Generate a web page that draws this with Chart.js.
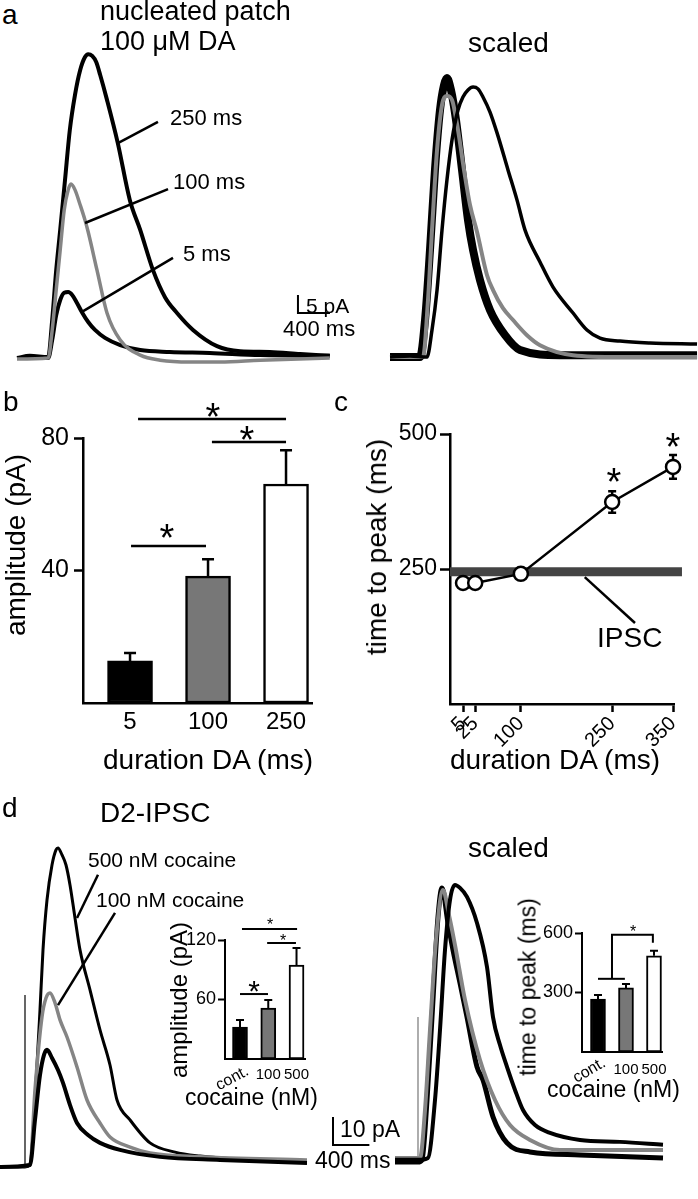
<!DOCTYPE html>
<html><head><meta charset="utf-8">
<script src="https://cdn.jsdelivr.net/npm/chart.js@4/dist/chart.umd.min.js"></script>
<style>
html,body{margin:0;padding:0;background:#fff;}
#fig{position:relative;width:698px;height:1199px;overflow:hidden;background:#fff;font-family:"Liberation Sans",Arial,sans-serif;color:#000;}
#fig canvas{position:absolute;}
.t{position:absolute;white-space:nowrap;z-index:5;line-height:1;}
</style></head>
<body><div id="fig"></div>
<script>
// ---------- DATA ----------
// Panel a, left: nucleated patch, 100 uM DA (time ms, current pA)
const a250_t = [0,160,390,440,490,540,600,660,725,790,850,890,940,990,1040,1125,1260,1410,1540,1700,1850,2000,2200,2500,2790,3160,3540,3910];
const a250_i = [0,0.6,0.3,10.6,24.4,35.6,49.4,63.3,73.1,80,83.6,84.4,83.9,82.2,78.6,71.7,59.7,43.9,35.6,24.4,16.9,12.5,7.8,3.3,1.9,1.7,1.1,0.6];
const a100_t = [0,390,440,490,540,590,640,675,725,790,850,890,1000,1125,1290,1540,1790,2160,2540,3040,3910];
const a100_i = [-0.3,0,7.8,18.9,30,41.1,46.7,48.3,46.7,42.5,38.3,35,24.4,12.5,5,0.8,-0.6,-1.1,-1.1,-0.6,0];
const a5_t = [0,390,440,490,540,590,640,690,750,810,890,975,1100,1290,1540,1910,2410,3040,3910];
const a5_i = [0,0,5,11.9,16.1,18.1,18.3,17.5,15.3,12.8,10,7.8,5.6,3.6,2.2,1.7,1.4,0.8,0.6];
// Panel a, right: scaled (normalised)
const s250_t = [0,250,462,525,588,650,712,775,850,912,975,1038,1100,1162,1250,1338,1475,1588,1688,1875,2038,2288,2462,2625,2875,3250,3838];
const s250_n = [0,0.004,0,0.1,0.248,0.47,0.656,0.804,0.915,0.963,0.989,1,0.993,0.963,0.907,0.83,0.693,0.581,0.47,0.352,0.259,0.163,0.1,0.07,0.059,0.052,0.048];
const s100_t = [0,412,475,525,588,650,712,775,850,925,1000,1088,1212,1288,1412,1538,1712,1875,2288,2875,3838];
const s100_n = [0,0,0.211,0.47,0.767,0.933,0.967,0.952,0.841,0.693,0.563,0.463,0.304,0.248,0.181,0.137,0.081,0.044,0.007,0,0];
const s5_t = [0,375,438,500,562,625,675,712,762,825,900,975,1038,1125,1250,1438,1625,2125,3838];
const s5_n = [0,0,0.137,0.396,0.693,0.915,1.007,1.033,0.989,0.878,0.693,0.507,0.396,0.285,0.174,0.081,0.026,0.007,0.007];
// Panel b: amplitude vs duration
const bLabels = ['5','100','250'];
const bAmp = [12.7,38.3,66.1];
const bErr = [2.4,5.1,10.2];
const bTicks = [40,80];
// Panel c: time to peak vs duration
const cDur = [5,25,100,250,350];
const cTtp = [224,224,241,374,439];
const cErr = [4,4,5,20,22];
const cTicks = [250,500];
const ipscTtp = 245;
// Panel d, left: D2-IPSC (time ms, current pA)
const d500_t = [-275,0,55,110,165,198,242,297,341,363,407,451,495,550,605,715,825,935,1012,1155,1375,1650,1925,2475,3102];
const d500_i = [-0.7,-0.7,0,23.2,55.4,76.8,94.6,107.1,112.5,113.2,110.7,107.1,100,88.2,76.8,62.5,48.2,35.7,23.2,16.1,7.9,4.6,3.2,1.8,1.1];
const d100_t = [-275,55,110,187,231,275,330,385,462,572,682,825,935,1155,1375,1925,3102];
const d100_i = [-0.7,0,26.8,52.9,59.6,61.4,57.9,51.8,45.7,35,23.2,15,10,6.4,4.3,2.9,1.8];
const dC_t = [-275,55,110,165,209,242,297,363,418,495,572,693,825,1045,1485,2145,3102];
const dC_i = [-0.7,0,16.1,32.1,39.3,41.1,38.2,33.9,29.3,21.4,15,10.7,7.9,5.4,2.9,1.8,0.7];
const dStim_t = [0,0];
const dStim_i = [-0.7,60.7];
// Panel d, right: scaled
const e500_t = [-253,0,110,187,242,297,352,407,462,539,649,759,825,902,979,1067,1155,1287,1452,1782,2222,2695];
const e500_n = [-0.007,-0.007,0,0.213,0.471,0.765,0.949,1.004,0.993,0.96,0.864,0.702,0.518,0.415,0.335,0.25,0.176,0.121,0.092,0.066,0.059,0.048];
const eC_t = [-253,0,44,99,154,220,264,330,385,462,539,649,715,825,979,1232,1782,2695];
const eC_n = [-0.015,-0.015,-0.007,0.213,0.518,0.886,0.993,0.864,0.765,0.643,0.518,0.335,0.287,0.151,0.055,0.022,0.011,0];
const e100_t = [-253,22,77,132,198,275,341,407,517,682,847,1012,1232,1562,2695];
const e100_n = [0,0,0.176,0.471,0.801,0.985,0.893,0.783,0.581,0.36,0.213,0.121,0.066,0.029,0.029];
const eStim_t = [0,0];
const eStim_n = [-0.007,0.518];
// Insets: cocaine
const cocLabels = ['cont.','100','500'];
const cocAmp = [32.3,51.4,94.8];
const cocAmpErr = [7,8.1,17.1];
const cocAmpTicks = [60,120];
const cocTtp = [267,323,485];
const cocTtpErr = [21,20,25];
const cocTtpTicks = [300,600];

// ---------- helpers ----------
Chart.defaults.font.family = '"Liberation Sans", Arial, sans-serif';
Chart.defaults.color = '#000';
const fig = document.getElementById('fig');
function makeCanvas(l,t,w,h){const c=document.createElement('canvas');c.width=w;c.height=h;c.style.left=l+'px';c.style.top=t+'px';c.style.width=w+'px';c.style.height=h+'px';fig.appendChild(c);return c;}
function drawPaths(chart,paths){const ctx=chart.ctx,xs=chart.scales.x,ys=chart.scales.y;ctx.save();paths.forEach(p=>{ctx.beginPath();p.pts.forEach((q,i)=>{const X=xs.getPixelForValue(q[0]),Y=ys.getPixelForValue(q[1]);if(i)ctx.lineTo(X,Y);else ctx.moveTo(X,Y);});ctx.lineWidth=p.w||2.5;ctx.strokeStyle=p.c||'#000';ctx.lineCap='butt';ctx.lineJoin='miter';ctx.stroke();});ctx.restore();}
function drawErr(chart,e){const ctx=chart.ctx,xs=chart.scales.x,ys=chart.scales.y;ctx.save();ctx.strokeStyle='#000';ctx.lineWidth=e.w;e.x.forEach((xv,i)=>{const X=xs.getPixelForValue(xv);const v=e.v[i],d=e.d[i];const Y1=ys.getPixelForValue(e.both?v-d:v),Y2=ys.getPixelForValue(v+d);ctx.beginPath();ctx.moveTo(X,Y1);ctx.lineTo(X,Y2);ctx.moveTo(X-e.cap/2,Y2);ctx.lineTo(X+e.cap/2,Y2);if(e.both){ctx.moveTo(X-e.cap/2,Y1);ctx.lineTo(X+e.cap/2,Y1);}ctx.stroke();});ctx.restore();}
let pid=0;
function anno(cfg){return {id:'anno'+(pid++),beforeDatasetsDraw(chart){if(cfg.err)drawErr(chart,cfg.err);},afterDatasetsDraw(chart){if(cfg.paths)drawPaths(chart,cfg.paths);}};}
const baseOpts = {responsive:false,animation:false,devicePixelRatio:1,events:[],plugins:{legend:{display:false},tooltip:{enabled:false}}};
function pts(t,v){return t.map((x,i)=>({x:x,y:v[i]}));}
function traceChart(l,t,w,h,xr,yr,sets,cfg){
  return new Chart(makeCanvas(l,t,w,h),{type:'scatter',
    data:{datasets:sets.map(s=>({data:pts(s.t,s.v),showLine:true,borderColor:s.c,borderWidth:s.w,pointRadius:0,cubicInterpolationMode:s.lin?'default':'monotone',tension:s.lin?0:0.4,fill:false}))},
    options:Object.assign({},baseOpts,{layout:{padding:0},scales:{x:{type:'linear',display:false,min:xr[0],max:xr[1]},y:{type:'linear',display:false,min:yr[0],max:yr[1]}}}),
    plugins:[anno(cfg)]});
}
function barChart(o){
  return new Chart(makeCanvas(o.l,o.t,o.w,o.h),{type:'bar',
    data:{datasets:[{data:o.vals.map((v,i)=>({x:i+1,y:v})),backgroundColor:o.colors,borderColor:'#000',borderWidth:o.bw,borderSkipped:false,barThickness:o.bt}]},
    options:Object.assign({},baseOpts,{layout:{padding:{top:o.pt,right:o.pr,left:0,bottom:0}},
      scales:{
        x:{type:'linear',offset:false,min:o.xr[0],max:o.xr[1],afterBuildTicks:s=>{s.ticks=o.vals.map((v,i)=>({value:i+1}));},afterFit:s=>{s.height=o.xh;},
           ticks:{callback:(v,i)=>o.xl(i),font:{size:o.xf},padding:o.xp,maxRotation:0,minRotation:0,autoSkip:false},
           grid:{display:false,drawTicks:false,offset:false},border:{display:true,color:'#000',width:o.aw}},
        y:{min:0,max:o.ymax,afterBuildTicks:s=>{s.ticks=o.yt.map(v=>({value:v}));},afterFit:s=>{s.width=o.yw;},
           ticks:{font:{size:o.yf},padding:o.yp},
           grid:{drawOnChartArea:false,tickLength:o.tl,tickWidth:o.aw,tickColor:'#000'},border:{color:'#000',width:o.aw}}
      }}),
    plugins:[anno({err:{x:o.vals.map((v,i)=>i+1),v:o.vals,d:o.errs,cap:o.cap,w:o.aw},paths:o.paths})]});
}
function T(s,x,base,size){const d=document.createElement('div');d.className='t';d.textContent=s;d.style.fontSize=size+'px';d.style.left=x+'px';d.style.top=(base-0.8465*size)+'px';fig.appendChild(d);}
function R(s,cx,cy,size,ang){const d=document.createElement('div');d.className='t';d.textContent=s;d.style.fontSize=size+'px';d.style.left=cx+'px';d.style.top=cy+'px';d.style.transform='translate(-50%,-50%) rotate('+ang+'deg)';fig.appendChild(d);}
function S(cx,cy,size){const d=document.createElement('div');d.className='t';d.textContent='*';d.style.fontSize=size+'px';d.style.left=cx+'px';d.style.top=(cy-0.2665*size)+'px';d.style.transform='translateX(-50%)';fig.appendChild(d);}

// ---------- panel a ----------
traceChart(0,40,345,340,[-212.5,4100],[-6.11,88.33],[
  {t:a100_t,v:a100_i,c:'#858585',w:3.5},
  {t:a5_t,v:a5_i,c:'#000',w:4},
  {t:a250_t,v:a250_i,c:'#000',w:4}
],{paths:[
  {pts:[[1262,59.7],[1762,65.6]],w:2.5},
  {pts:[[850,37.5],[1888,46.9]],w:2.5},
  {pts:[[812,12.8],[1950,27.8]],w:2.5},
  {pts:[[3512,17.5],[3512,12.5],[3912,12.5]],w:2}
]});
traceChart(345,40,353,340,[-562.5,3850],[-0.085,1.174],[
  {t:s250_t,v:s250_n,c:'#000',w:3.5},
  {t:s100_t,v:s100_n,c:'#858585',w:4},
  {t:s5_t,v:s5_n,c:'#000',w:8}
],{});

// ---------- panel b ----------
barChart({l:0,t:395,w:335,h:405,vals:bAmp,errs:bErr,colors:['#000','#777','#fff'],bw:2.5,bt:45,pt:43,pr:23,
  xr:[0.397,3.333],xh:97,xl:i=>bLabels[i],xf:24,xp:5,aw:2.5,ymax:80,yt:bTicks,yw:83,yf:25,yp:5,tl:9,cap:12,
  paths:[{pts:[[1.103,85.7],[3.0,85.7]],w:2.5},{pts:[[2.05,78.8],[3.0,78.8]],w:2.5},{pts:[[1.013,47.4],[1.974,47.4]],w:2.5}]});

// ---------- panel c ----------
new Chart(makeCanvas(340,395,358,400),{type:'scatter',
  data:{datasets:[
    {data:pts(cDur,cTtp),showLine:true,borderColor:'#000',borderWidth:2.5,pointRadius:7,pointBackgroundColor:'#fff',pointBorderColor:'#000',pointBorderWidth:2.5,tension:0,clip:false},
    {data:[{x:-16.4,y:ipscTtp},{x:364.7,y:ipscTtp}],showLine:true,borderColor:'#444',borderWidth:9,pointRadius:0,clip:false,borderCapStyle:'butt'}
  ]},
  options:Object.assign({},baseOpts,{layout:{padding:{top:39,right:24,left:0,bottom:0}},
    scales:{
      x:{type:'linear',min:-16.4,max:351.6,afterBuildTicks:s=>{s.ticks=cDur.map(v=>({value:v}));},afterFit:s=>{s.height=91;},
         ticks:{font:{size:20},minRotation:45,maxRotation:45,padding:0,autoSkip:false},
         grid:{drawOnChartArea:false,tickLength:8,tickWidth:2.5,tickColor:'#000'},border:{color:'#000',width:2.5}},
      y:{min:0,max:500,afterBuildTicks:s=>{s.ticks=cTicks.map(v=>({value:v}));},afterFit:s=>{s.width=110;},
         ticks:{font:{size:23},padding:3},
         grid:{drawOnChartArea:false,tickLength:10,tickWidth:2.5,tickColor:'#000'},border:{color:'#000',width:2.5}}
    }}),
  plugins:[anno({err:{x:cDur,v:cTtp,d:cErr,cap:8,w:2.5,both:true},paths:[{pts:[[205,235],[287.5,150]],w:2.5}]})]});

// ---------- panel d ----------
traceChart(0,830,400,360,[-275,4125],[-8.93,119.6],[
  {t:dC_t,v:dC_i,c:'#000',w:4},
  {t:d100_t,v:d100_i,c:'#858585',w:3.5},
  {t:d500_t,v:d500_i,c:'#000',w:3},
  {t:dStim_t,v:dStim_i,c:'#000',w:1.2,lin:true}
],{paths:[
  {pts:[[803,103.6],[572,88.2]],w:2.5},
  {pts:[[990,90],[363,57.1]],w:2.5},
  {pts:[[3388,17.1],[3388,7.1],[3788,7.1]],w:2}
]});
traceChart(345,830,353,360,[-803,3080],[-0.118,1.206],[
  {t:e500_t,v:e500_n,c:'#000',w:4},
  {t:e100_t,v:e100_n,c:'#858585',w:4},
  {t:eC_t,v:eC_n,c:'#000',w:5},
  {t:eStim_t,v:eStim_n,c:'#777',w:1.2,lin:true}
],{});
barChart({l:150,t:900,w:180,h:200,vals:cocAmp,errs:cocAmpErr,colors:['#000','#777','#fff'],bw:2,bt:15,pt:40,pr:25,
  xr:[0.469,3.30],xh:41,xl:i=>i===0?'':cocLabels[i],xf:15,xp:7,aw:2,ymax:120,yt:cocAmpTicks,yw:75,yf:18,yp:2,tl:7,cap:8,
  paths:[{pts:[[1.07,131],[3.02,131]],w:2},{pts:[[1.96,117],[2.98,117]],w:2},{pts:[[1.0,65.5],[1.99,65.5]],w:2}]});
barChart({l:500,t:900,w:198,h:200,vals:cocTtp,errs:cocTtpErr,colors:['#000','#777','#fff'],bw:2,bt:15,pt:33,pr:36,
  xr:[0.429,3.286],xh:48,xl:i=>i===0?'':cocLabels[i],xf:15,xp:9,aw:2,ymax:600,yt:cocTtpTicks,yw:82,yf:18,yp:2,tl:7,cap:8,
  paths:[{pts:[[1.0,369],[1.96,369]],w:2},{pts:[[1.5,369],[1.5,591],[2.96,591],[2.96,551]],w:2}]});

// ---------- text ----------
T('a',2,25,28); T('nucleated patch',100,21,27); T('100 \u03bcM DA',100,51,27);
T('250 ms',170,126,22); T('100 ms',173,190,22); T('5 ms',183,262,22);
T('5 pA',306,313,21); T('400 ms',283,337,22);
T('scaled',468,53,28);
T('b',3,412,28); T('c',334,412,28);
R('amplitude (pA)',16,545,28,-90); T('duration DA (ms)',103,770,28);
R('time to peak (ms)',377,547,28,-90); T('duration DA (ms)',450,770,28);
T('IPSC',597,648,28);
S(213,408,38); S(247,431,38); S(167,529,38); S(614,473,38); S(673,438,38);
T('d',2,818,28); T('D2-IPSC',100,823,28);
T('500 nM cocaine',88,867,21); T('100 nM cocaine',96,907,21);
T('scaled',468,858,28);
T('10 pA',340,1137,23); T('400 ms',315,1168,23);
R('amplitude (pA)',179,1000,24,-90); R('cont.',232,1078,16,-28); T('cocaine (nM)',185,1105,23);
R('time to peak (ms)',528,987,23,-90); R('cont.',589,1070,16,-30); T('cocaine (nM)',547,1097,23);
S(254,984,30); S(270,921,16); S(283,937,16); S(633,928,16);
</script>
</body></html>
